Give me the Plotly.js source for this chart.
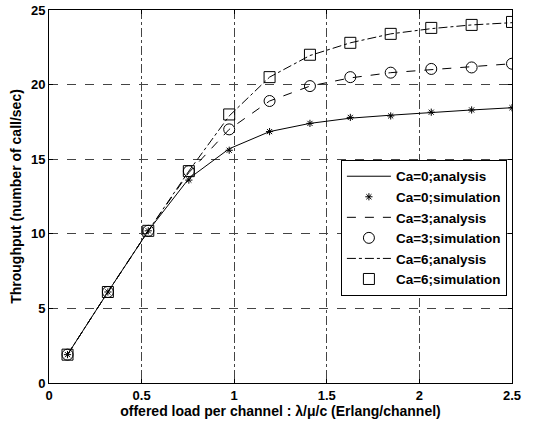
<!DOCTYPE html>
<html><head><meta charset="utf-8">
<script src="https://cdn.plot.ly/plotly-3.0.1.min.js"></script>
<style>html,body{margin:0;padding:0;background:#fff}#chart{width:535px;height:428px}</style>
</head><body><div id="chart"></div>
<script>
var load = [0.1, 0.318, 0.536, 0.755, 0.973, 1.191, 1.409, 1.627, 1.845, 2.064, 2.282, 2.5];
var ca0Analysis = [1.9, 6.1, 10.2, 13.7, 15.7, 16.85, 17.4, 17.75, 17.95, 18.15, 18.3, 18.45];
var ca0Simulation = [1.9, 6.1, 10.2, 13.6, 15.6, 16.85, 17.4, 17.8, 17.9, 18.15, 18.3, 18.45];
var ca3Analysis = [1.9, 6.1, 10.2, 14.1, 17.0, 18.9, 19.9, 20.45, 20.8, 21.0, 21.2, 21.4];
var ca3Simulation = [1.9, 6.1, 10.2, 14.2, 17.0, 18.9, 19.9, 20.5, 20.8, 21.05, 21.15, 21.4];
var ca6Analysis = [1.9, 6.1, 10.2, 14.2, 17.9, 20.5, 21.95, 22.8, 23.4, 23.75, 24.0, 24.15];
var ca6Simulation = [1.9, 6.1, 10.2, 14.2, 18.0, 20.5, 22.0, 22.8, 23.4, 23.8, 24.0, 24.2];
var seriesNames = ['Ca=0;analysis','Ca=0;simulation','Ca=3;analysis','Ca=3;simulation','Ca=6;analysis','Ca=6;simulation'];

var fam = 'Arial, "Liberation Sans", sans-serif';
var tickFont = {family: fam, size: 13, color: '#000', weight: 'bold'};
var titleFont = {family: fam, size: 14, color: '#000', weight: 'bold'};
var legendFont = {family: fam, size: 13.5, color: '#000', weight: 'bold'};
var traces = [
  {x: load, y: ca0Analysis, name: seriesNames[0], mode: 'lines', line: {color: '#000', width: 1}},
  {x: load, y: ca0Simulation, name: seriesNames[1], mode: 'markers', marker: {symbol: 'asterisk-open', size: 6, color: '#000', line: {color: '#000', width: 1}}},
  {x: load, y: ca3Analysis, name: seriesNames[2], mode: 'lines', line: {color: '#000', width: 1, dash: 'dash'}},
  {x: load, y: ca3Simulation, name: seriesNames[3], mode: 'markers', marker: {symbol: 'circle-open', size: 11, color: '#000', line: {color: '#000', width: 1}}},
  {x: load, y: ca6Analysis, name: seriesNames[4], mode: 'lines', line: {color: '#000', width: 1, dash: 'dashdot'}},
  {x: load, y: ca6Simulation, name: seriesNames[5], mode: 'markers', marker: {symbol: 'square-open', size: 11, color: '#000', line: {color: '#000', width: 1}}}
];
var layout = {
  width: 535, height: 428,
  margin: {l: 49, r: 23, t: 10, b: 45},
  paper_bgcolor: '#fff', plot_bgcolor: '#fff',
  font: tickFont,
  showlegend: true,
  legend: {x: 0.989, y: 0.598, xanchor: 'right', yanchor: 'top', bgcolor: '#fff', bordercolor: '#000', borderwidth: 1, font: legendFont, tracegroupgap: 0, itemwidth: 44},
  xaxis: {
    range: [0, 2.5], dtick: 0.5, tick0: 0, showline: true, mirror: 'ticks', linecolor: '#000', linewidth: 1,
    ticks: 'inside', ticklen: 4, tickcolor: '#000', zeroline: false,
    showgrid: true, gridcolor: '#444', griddash: 'dashdot', gridwidth: 1,
    tickfont: tickFont,
    title: {text: 'offered load per channel : λ/μ/c (Erlang/channel)', font: titleFont, standoff: 3}
  },
  yaxis: {
    range: [0, 25], dtick: 5, tick0: 0, showline: true, mirror: 'ticks', linecolor: '#000', linewidth: 1,
    ticks: 'inside', ticklen: 4, tickcolor: '#000', zeroline: false,
    showgrid: true, gridcolor: '#444', griddash: 'dash', gridwidth: 1,
    tickfont: tickFont,
    title: {text: 'Throughput (number of call/sec)', font: titleFont, standoff: 6}
  }
};
Plotly.newPlot('chart', traces, layout, {displayModeBar: false, staticPlot: true});
</script>
</body></html>
